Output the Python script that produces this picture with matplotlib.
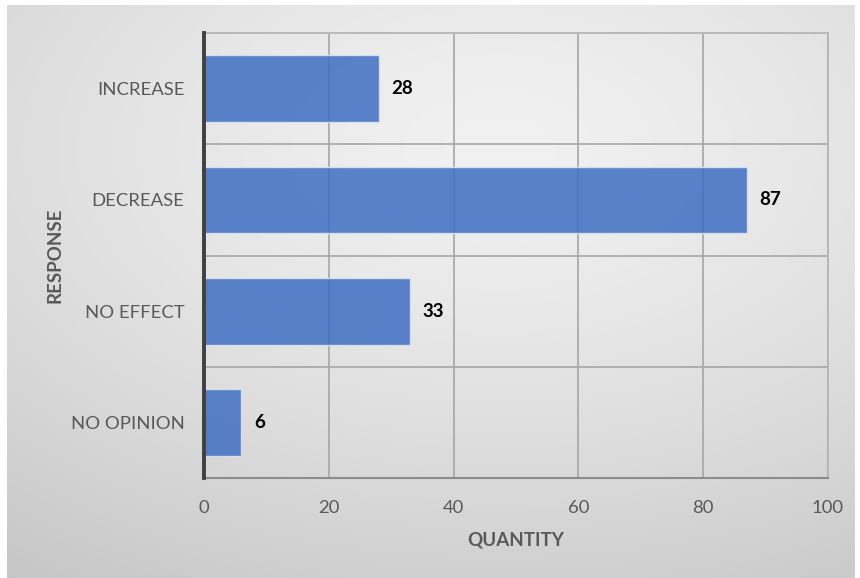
import numpy as np
import matplotlib.pyplot as plt

plt.rcParams['font.family'] = ['Lato', 'DejaVu Sans']

categories = ["INCREASE", "DECREASE", "NO EFFECT", "NO OPINION"]
quantities = [28, 87, 33, 6]
x_ticks = [0, 20, 40, 60, 80, 100]

fig = plt.figure(figsize=(8.6, 5.78), dpi=100)

# soft grey radial fill behind the chart
bg = fig.add_axes([7 / 860, 0, 848 / 860, 573 / 578], zorder=-1)
yy, xx = np.mgrid[0:1:300j, 0:1:450j]
dist = np.sqrt(((xx - 0.58) / 1.0) ** 2 + ((yy - 0.25) / 0.9) ** 2)
dist = np.clip(dist / dist.max(), 0, 1)
shade = 0.945 - 0.17 * dist ** 1.4
bg.imshow(np.dstack([shade] * 3), aspect='auto', extent=[0, 1, 0, 1], origin='upper')
bg.axis('off')

ax = fig.add_axes([204 / 860, 100 / 578, 624 / 860, 445 / 578])
ax.set_facecolor('none')

y = np.arange(len(categories))
bars = ax.barh(y, quantities, height=0.6, color='#4472C4', alpha=0.88,
               edgecolor='#dbe4f3', linewidth=1, zorder=3)

for yi, q in zip(y, quantities):
    ax.annotate(str(q), xy=(q, yi), xytext=(9, 0), textcoords='offset points',
                ha='left', va='center', fontsize=13.5, fontweight='bold', color='black')

ax.set_xlim(0, 100)
ax.set_ylim(len(categories) - 0.5, -0.5)
ax.set_xticks(x_ticks)
ax.set_yticks(y)
ax.set_yticklabels(categories)
ax.set_yticks(np.arange(0.5, len(categories) - 0.5, 1), minor=True)

ax.tick_params(axis='both', which='both', length=0, labelsize=13.3, colors='#595959')
ax.tick_params(axis='y', pad=14)
ax.tick_params(axis='x', pad=16)

ax.grid(axis='x', which='major', color='#a6a6a6', linewidth=1.2, zorder=0)
ax.grid(axis='y', which='minor', color='#a6a6a6', linewidth=1.2, zorder=0)

for side in ['top', 'right']:
    ax.spines[side].set_color('#b5b5b5')
    ax.spines[side].set_linewidth(1.3)
ax.spines['bottom'].set_color('#8c8c8c')
ax.spines['bottom'].set_linewidth(1.5)
ax.spines['left'].set_color('#404040')
ax.spines['left'].set_linewidth(2.8)
ax.spines['left'].set_zorder(4)

ax.set_xlabel("QUANTITY", fontsize=13.5, fontweight='bold', color='#595959', labelpad=11)
ax.set_ylabel("RESPONSE", fontsize=13.5, fontweight='bold', color='#595959', labelpad=5)

fig.savefig("out.png", dpi=100)
